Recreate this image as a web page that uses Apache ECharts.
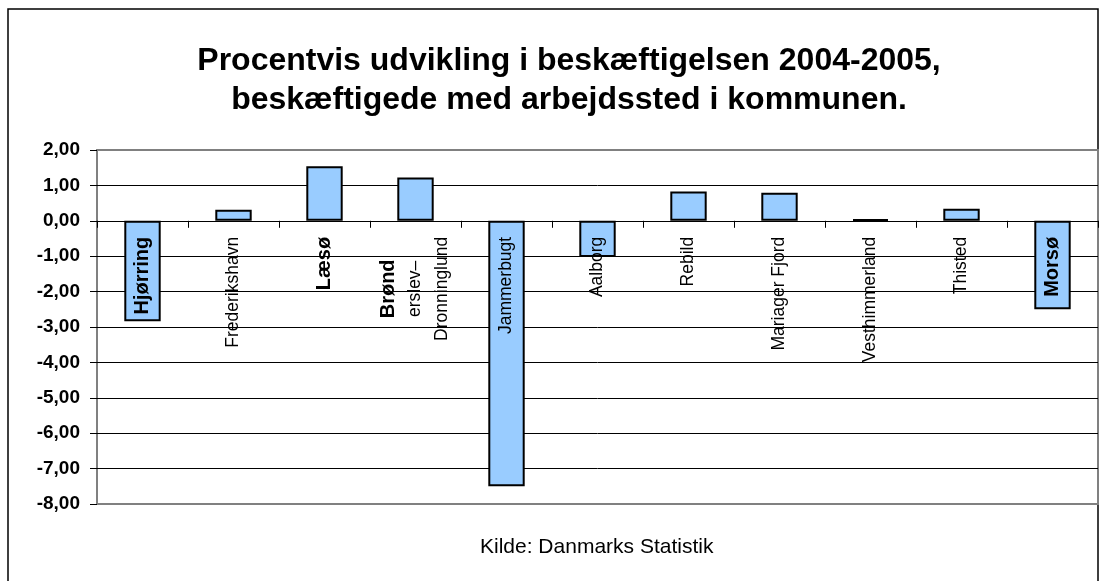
<!DOCTYPE html>
<html>
<head>
<meta charset="utf-8">
<script src="https://cdn.jsdelivr.net/npm/echarts@6/dist/echarts.min.js"></script>
<style>
  html, body { margin: 0; padding: 0; background: #fff; }
  #chart { width: 1104px; height: 581px; }
</style>
</head>
<body>
<div id="chart"></div>
<script>
// kommuner og procentvis udvikling 2004-2005
var kommuner = ['Hjørring', 'Frederikshavn', 'Læsø', 'Brønderslev-Dronninglund', 'Jammerbugt',
  'Aalborg', 'Rebild', 'Mariager Fjord', 'Vesthimmerland', 'Thisted', 'Morsø'];
var udvikling = [-2.84, 0.31, 1.54, 1.22, -7.50, -1.02, 0.83, 0.79, 0.04, 0.34, -2.50];
// navne der står med fed skrift
var fedeNavne = ['Hjørring', 'Læsø', 'Morsø'];
var yMin = -8, yMax = 2, yStep = 1;

var font = '"Liberation Sans", Arial, sans-serif';
var myChart = echarts.init(document.getElementById('chart'));

var gridTop = 150, gridBottom = 77;
var gridHeight = 581 - gridTop - gridBottom;
// x-aksen ligger ved 0, flyttes op fra bunden
var zeroOffset = -gridHeight * (0 - yMin) / (yMax - yMin);

// split linjer: grå i kanten, sort ellers
var splitColors = [];
for (var v = yMin; v <= yMax; v += yStep) {
  splitColors.push(v === yMin || v === yMax ? '#808080' : '#000');
}

var option = {
  backgroundColor: '#fff',
  animation: false,
  title: {
    text: 'Procentvis udvikling i beskæftigelsen 2004-2005,\nbeskæftigede med arbejdssted i kommunen.',
    left: 564,
    top: 37,
    textAlign: 'center',
    textStyle: {
      fontFamily: font,
      fontWeight: 'bold',
      fontSize: 32,
      lineHeight: 39,
      color: '#000'
    }
  },
  graphic: [{
    type: 'rect',
    shape: { x: 8, y: 9, width: 1090, height: 700 },
    style: { fill: null, stroke: '#000', lineWidth: 1.5 },
    z: -1
  }, {
    type: 'text',
    left: 480,
    top: 537,
    style: {
      text: 'Kilde: Danmarks Statistik',
      font: '21px "Liberation Sans", Arial, sans-serif',
      fill: '#000'
    }
  }],
  grid: {
    left: 97,
    right: 6,
    top: gridTop,
    bottom: gridBottom,
    containLabel: false,
    outerBoundsMode: 'none',
    show: true,
    borderColor: '#808080',
    borderWidth: 2,
    backgroundColor: '#fff'
  },
  xAxis: {
    type: 'category',
    data: kommuner,
    position: 'bottom',
    offset: zeroOffset,
    z: 5,
    axisLine: { onZero: false, lineStyle: { color: '#000', width: 1 } },
    axisTick: { show: true, length: 7, lineStyle: { color: '#000' } },
    axisLabel: {
      interval: 0,
      rotate: 90,
      margin: 16,
      color: '#000',
      hideOverlap: false,
      formatter: function (name) {
        if (name === 'Brønderslev-Dronninglund') {
          return '{b|Brønd}\n{n|erslev–}\n{n|Dronninglund}';
        }
        if (fedeNavne.indexOf(name) >= 0) {
          return '{b|' + name + '}';
        }
        return '{n|' + name + '}';
      },
      rich: {
        b: { fontFamily: font, fontWeight: 'bold', fontSize: 20, lineHeight: 27, align: 'center', color: '#000' },
        n: { fontFamily: font, fontSize: 17.5, lineHeight: 27, align: 'center', color: '#000' }
      }
    }
  },
  yAxis: {
    type: 'value',
    min: yMin,
    max: yMax,
    interval: yStep,
    axisLine: { show: false },
    axisTick: { show: true, length: 7, lineStyle: { color: '#000' } },
    axisLabel: {
      margin: 17,
      color: '#000',
      fontFamily: font,
      fontWeight: 'bold',
      fontSize: 19,
      formatter: function (val) {
        return val.toFixed(2).replace('.', ',');
      }
    },
    splitLine: { show: true, lineStyle: { color: splitColors, width: 1 } }
  },
  series: [{
    type: 'bar',
    data: udvikling,
    barWidth: '40%',
    itemStyle: {
      color: '#99CCFF',
      borderColor: '#000',
      borderWidth: 2
    }
  }]
};
myChart.setOption(option);
</script>
</body>
</html>
